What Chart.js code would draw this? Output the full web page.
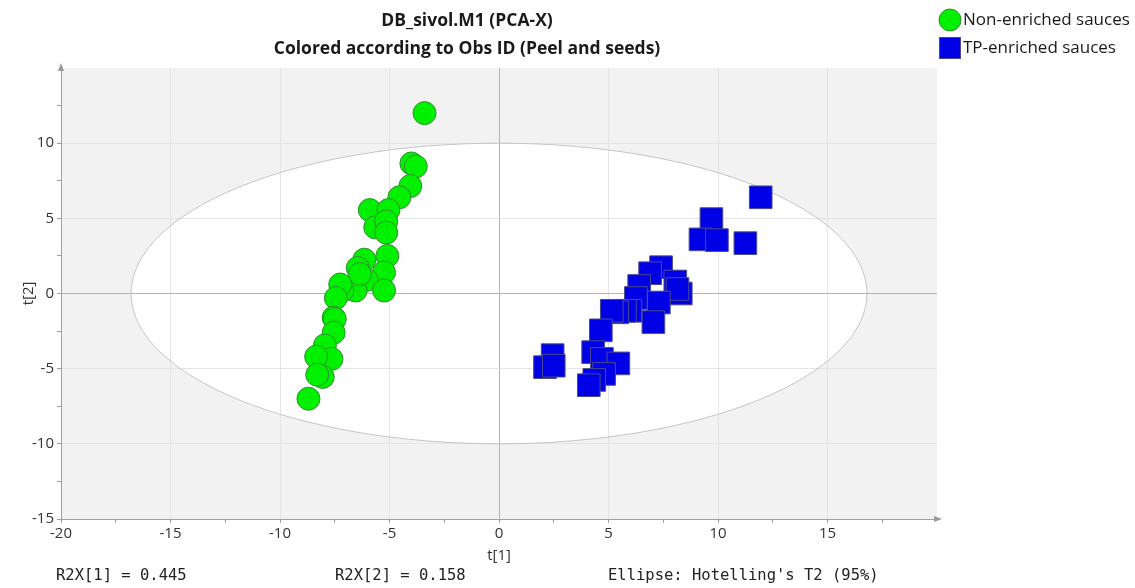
<!DOCTYPE html>
<html>
<head>
<meta charset="utf-8">
<title>DB_sivol.M1 (PCA-X)</title>
<script src="https://cdn.jsdelivr.net/npm/chart.js"></script>
<style>
  html, body { margin: 0; padding: 0; background: #fff; }
  #wrap { width: 1135px; height: 588px; }
</style>
</head>
<body>
<div id="wrap"><canvas id="scores" width="1135" height="588"></canvas></div>
<script>
// scores, t[1] / t[2]
const nonEnrichedT1 = [-3.4, -4.0, -3.8, -4.05, -4.55, -5.9, -5.05, -5.65, -5.15, -5.15,
  -5.1, -6.15, -6.45, -5.25, -6.05, -5.25, -6.55, -7.15, -7.25, -6.35,
  -7.45, -7.55, -7.5, -7.55, -7.95, -7.65, -8.35, -8.05, -8.3, -8.7];
const nonEnrichedT2 = [12.0, 8.65, 8.45, 7.15, 6.4, 5.55, 5.55, 4.4, 4.8, 4.05,
  2.5, 2.25, 1.7, 1.4, 0.9, 0.2, 0.2, 0.2, 0.6, 1.3,
  -0.3, -1.6, -1.7, -2.6, -3.45, -4.35, -4.2, -5.55, -5.4, -7.0];

const tpEnrichedT1 = [11.95, 9.7, 9.2, 9.95, 11.25, 7.4, 6.9, 8.05, 8.3, 8.15,
  6.4, 6.25, 7.3, 7.05, 6.0, 5.75, 5.4, 5.15, 4.65, 4.3,
  4.7, 5.45, 4.8, 4.35, 4.1, 2.45, 2.1, 2.5];
const tpEnrichedT2 = [6.4, 4.95, 3.6, 3.55, 3.35, 1.75, 1.35, 0.8, 0.0, 0.3,
  0.5, -0.3, -0.6, -1.9, -1.15, -1.15, -1.25, -1.15, -2.45, -3.9,
  -4.35, -4.65, -5.35, -5.75, -6.1, -4.1, -4.9, -4.8];

const seriesNames = ['Non-enriched sauces', 'TP-enriched sauces'];
const titleLines = ['DB_sivol.M1 (PCA-X)', 'Colored according to Obs ID (Peel and seeds)'];
const footerTexts = ['R2X[1] = 0.445', 'R2X[2] = 0.158', "Ellipse: Hotelling's T2 (95%)"];

// axis ranges and the Hotelling T2 ellipse semi-axes
const xMin = -20, xMax = 20, yMin = -15, yMax = 15;
const ellipseT1 = 16.8, ellipseT2 = 10;

const green = '#00f000', greenEdge = '#2f8f2f';
const blue = '#0000e6', blueEdge = '#4a4a8c';

function toPoints(xs, ys) {
  return xs.map((v, i) => ({ x: v, y: ys[i] }));
}

function gridColor(max) {
  return function (c) {
    const v = c.tick.value;
    if (v === 0) return '#b4b4b4';
    if (v % 5 === 0 && v !== max) return '#e4e4e4';
    return 'rgba(0,0,0,0)';
  };
}

function tickMarkColor(max) {
  return function (c) {
    return c.tick.value === max ? 'rgba(0,0,0,0)' : '#a0a0a0';
  };
}

function ellipsePath(chart) {
  const x = chart.scales.x, y = chart.scales.y;
  const cx = x.getPixelForValue(0), cy = y.getPixelForValue(0);
  const rx = x.getPixelForValue(ellipseT1) - cx;
  const ry = cy - y.getPixelForValue(ellipseT2);
  chart.ctx.beginPath();
  chart.ctx.ellipse(cx, cy, rx, ry, 0, 0, Math.PI * 2);
}

const decorations = {
  id: 'decorations',
  beforeDraw(chart) {
    const ctx = chart.ctx, a = chart.chartArea;
    ctx.save();
    ctx.fillStyle = '#f2f2f2';
    ctx.fillRect(a.left, a.top, a.right - a.left, a.bottom - a.top);
    ellipsePath(chart);
    ctx.fillStyle = '#ffffff';
    ctx.fill();
    ctx.restore();
  },
  beforeDatasetsDraw(chart) {
    const ctx = chart.ctx;
    ctx.save();
    ellipsePath(chart);
    ctx.strokeStyle = '#c6c6c6';
    ctx.lineWidth = 1;
    ctx.stroke();
    ctx.restore();
  },
  afterDraw(chart) {
    const ctx = chart.ctx, a = chart.chartArea;
    ctx.save();

    // axis arrows
    ctx.fillStyle = '#9a9a9a';
    ctx.beginPath();
    ctx.moveTo(a.left, a.top - 5);
    ctx.lineTo(a.left - 3, a.top + 3);
    ctx.lineTo(a.left + 3, a.top + 3);
    ctx.fill();
    ctx.beginPath();
    ctx.moveTo(a.right + 5, a.bottom);
    ctx.lineTo(a.right - 3, a.bottom - 3);
    ctx.lineTo(a.right - 3, a.bottom + 3);
    ctx.fill();

    // titles
    ctx.fillStyle = '#1a1a1a';
    ctx.textAlign = 'center';
    ctx.textBaseline = 'middle';
    ctx.font = 'bold 17.5px "Open Sans"';
    ctx.fillText(titleLines[0], 467, 21);
    ctx.fillText(titleLines[1], 467, 49);

    // legend
    ctx.lineWidth = 1;
    ctx.beginPath();
    ctx.arc(950, 20, 11, 0, Math.PI * 2);
    ctx.fillStyle = green;
    ctx.fill();
    ctx.strokeStyle = greenEdge;
    ctx.stroke();
    ctx.fillStyle = blue;
    ctx.fillRect(939, 37, 22, 22);
    ctx.strokeStyle = blueEdge;
    ctx.strokeRect(939.5, 37.5, 21, 21);
    ctx.fillStyle = '#1a1a1a';
    ctx.textAlign = 'left';
    ctx.font = '17px "Open Sans"';
    ctx.fillText(seriesNames[0], 963, 20);
    ctx.fillText(seriesNames[1], 963, 48);

    // footer
    ctx.font = '15.5px "DejaVu Sans Mono"';
    ctx.fillStyle = '#222';
    ctx.fillText(footerTexts[0], 56, 576);
    ctx.fillText(footerTexts[1], 335, 576);
    ctx.fillText(footerTexts[2], 608, 576);
    ctx.restore();
  }
};

new Chart(document.getElementById('scores'), {
  type: 'scatter',
  data: {
    datasets: [
      {
        label: seriesNames[0],
        data: toPoints(nonEnrichedT1, nonEnrichedT2),
        pointStyle: 'circle',
        pointRadius: 11.5,
        pointHoverRadius: 11.5,
        backgroundColor: green,
        borderColor: greenEdge,
        borderWidth: 1
      },
      {
        label: seriesNames[1],
        data: toPoints(tpEnrichedT1, tpEnrichedT2),
        pointStyle: 'rect',
        pointRadius: 16,
        pointHoverRadius: 16,
        backgroundColor: blue,
        borderColor: blueEdge,
        borderWidth: 1
      }
    ]
  },
  options: {
    responsive: false,
    animation: false,
    devicePixelRatio: 1,
    layout: { padding: { top: 68, right: 198, left: 0, bottom: 0 } },
    plugins: {
      legend: { display: false },
      title: { display: false },
      tooltip: { enabled: false }
    },
    scales: {
      x: {
        type: 'linear',
        min: xMin,
        max: xMax,
        afterFit(scale) { scale.height = 69; },
        ticks: {
          stepSize: 2.5,
          autoSkip: false,
          maxRotation: 0,
          color: '#333',
          font: { family: 'Open Sans', size: 15 },
          padding: 2,
          callback: v => (v % 5 === 0 && v !== xMax ? v : '')
        },
        grid: {
          color: gridColor(xMax),
          tickColor: tickMarkColor(xMax),
          tickLength: 4
        },
        border: { color: '#a0a0a0', width: 1 },
        title: {
          display: true,
          text: 't[1]',
          color: '#333',
          font: { family: 'Open Sans', size: 15 },
          padding: { top: 0, bottom: 23 }
        }
      },
      y: {
        type: 'linear',
        min: yMin,
        max: yMax,
        afterFit(scale) { scale.width = 61; },
        ticks: {
          stepSize: 2.5,
          autoSkip: false,
          color: '#333',
          font: { family: 'Open Sans', size: 15 },
          padding: 3,
          callback: v => (v % 5 === 0 && v !== yMax ? v : '')
        },
        grid: {
          color: gridColor(yMax),
          tickColor: tickMarkColor(yMax),
          tickLength: 4
        },
        border: { color: '#a0a0a0', width: 1 },
        title: {
          display: true,
          text: 't[2]',
          color: '#333',
          font: { family: 'Open Sans', size: 15 },
          padding: { top: 20, bottom: 0 }
        }
      }
    }
  },
  plugins: [decorations]
});
</script>
</body>
</html>
